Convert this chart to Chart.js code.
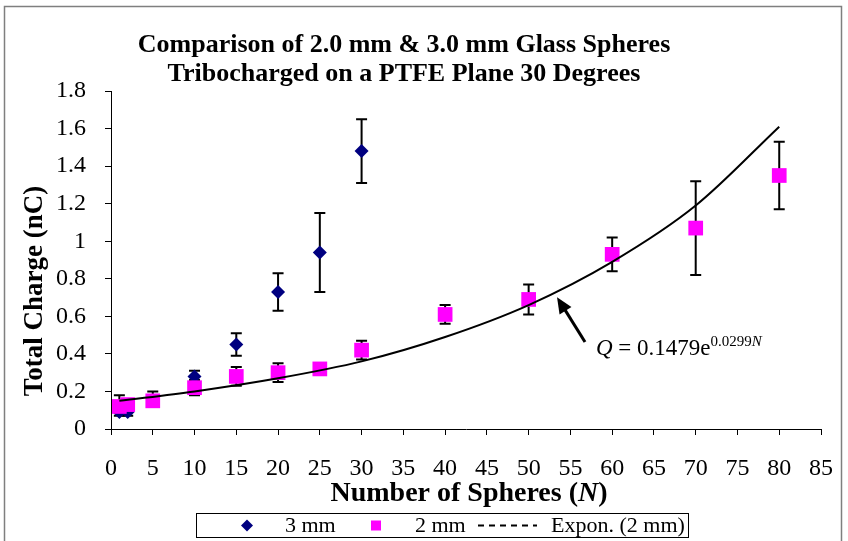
<!DOCTYPE html>
<html>
<head>
<meta charset="utf-8">
<script src="https://cdn.jsdelivr.net/npm/chart.js@4.4.1/dist/chart.umd.min.js"></script>
<style>
  html, body { margin: 0; padding: 0; background: #fff; }
  canvas { display: block; }
</style>
</head>
<body>
<canvas id="myChart" width="848" height="541"></canvas>
<script>
// 3 mm spheres (blue diamonds)
const n3 = [1, 2, 10, 15, 20, 25, 30];
const q3 = [0.09, 0.09, 0.28, 0.45, 0.73, 0.94, 1.48];
const q3Low = [0.07, 0.07, 0.26, 0.39, 0.63, 0.73, 1.31];
const q3High = [0.11, 0.11, 0.31, 0.51, 0.83, 1.15, 1.65];

// 2 mm spheres (magenta squares)
const n2 = [1, 2, 5, 10, 15, 20, 25, 30, 40, 50, 60, 70, 80];
const q2 = [0.12, 0.13, 0.15, 0.22, 0.28, 0.30, 0.32, 0.42, 0.61, 0.69, 0.93, 1.07, 1.35];
const q2Low = [0.10, 0.11, 0.12, 0.18, 0.23, 0.25, 0.30, 0.37, 0.56, 0.61, 0.84, 0.82, 1.17];
const q2High = [0.18, 0.16, 0.20, 0.26, 0.33, 0.35, 0.34, 0.47, 0.66, 0.77, 1.02, 1.32, 1.53];

// exponential trendline for 2 mm
const trendN = [1, 10, 20, 30, 40, 50, 60, 70, 80];
const trendQ = [0.15, 0.20, 0.27, 0.36, 0.49, 0.66, 0.89, 1.19, 1.61];

const titleLines = ["Comparison of 2.0 mm & 3.0 mm Glass Spheres", "Tribocharged on a PTFE Plane 30 Degrees"];
const legendLabels = ["3 mm", "2 mm", "Expon. (2 mm)"];

const FONT = "'Liberation Serif', 'Times New Roman', serif";
const toPoints = (xs, ys) => xs.map((v, i) => ({ x: v, y: ys[i] }));

// white background + outer frame
const frame = {
  id: "frame",
  beforeDraw(chart) {
    const ctx = chart.ctx;
    ctx.save();
    ctx.fillStyle = "#fff";
    ctx.fillRect(0, 0, chart.width, chart.height);
    ctx.restore();
  },
  afterDraw(chart) {
    const ctx = chart.ctx;
    ctx.save();
    ctx.strokeStyle = "#7f7f7f";
    ctx.lineWidth = 1.5;
    ctx.strokeRect(4.5, 6.5, 837, 540);
    ctx.restore();
  },
};

// error bars behind the markers
const errorBars = {
  id: "errorBars",
  beforeDatasetsDraw(chart) {
    const { ctx, scales: { x, y } } = chart;
    ctx.save();
    ctx.strokeStyle = "#000";
    ctx.lineWidth = 2;
    const draw = (ns, lo, hi) => {
      ns.forEach((n, i) => {
        const px = x.getPixelForValue(n);
        const y1 = y.getPixelForValue(lo[i]);
        const y2 = y.getPixelForValue(hi[i]);
        ctx.beginPath();
        ctx.moveTo(px, y1); ctx.lineTo(px, y2);
        ctx.moveTo(px - 5.5, y1); ctx.lineTo(px + 5.5, y1);
        ctx.moveTo(px - 5.5, y2); ctx.lineTo(px + 5.5, y2);
        ctx.stroke();
      });
    };
    draw(n3, q3Low, q3High);
    draw(n2, q2Low, q2High);
    ctx.restore();
  },
};

// titles, axis titles, annotation and legend
const texts = {
  id: "texts",
  afterDraw(chart) {
    const { ctx, scales: { x, y } } = chart;
    ctx.save();
    ctx.fillStyle = "#000";
    ctx.textBaseline = "middle";

    // chart title
    ctx.textAlign = "center";
    ctx.font = "bold 26px " + FONT;
    ctx.fillText(titleLines[0], 404, 45);
    ctx.fillText(titleLines[1], 404, 74);

    // y axis title
    ctx.save();
    ctx.translate(35, 291);
    ctx.rotate(-Math.PI / 2);
    ctx.font = "bold 27px " + FONT;
    ctx.fillText("Total Charge (nC)", 0, 0);
    ctx.restore();

    // x axis title with italic N
    ctx.textAlign = "left";
    const p1 = "Number of Spheres (", p2 = "N", p3 = ")";
    ctx.font = "bold 28px " + FONT;
    const w1 = ctx.measureText(p1).width, w3 = ctx.measureText(p3).width;
    ctx.font = "bold italic 28px " + FONT;
    const w2 = ctx.measureText(p2).width;
    let tx = 469 - (w1 + w2 + w3) / 2;
    const ty = 494;
    ctx.font = "bold 28px " + FONT;
    ctx.fillText(p1, tx, ty);
    ctx.font = "bold italic 28px " + FONT;
    ctx.fillText(p2, tx + w1, ty);
    ctx.font = "bold 28px " + FONT;
    ctx.fillText(p3, tx + w1 + w2, ty);

    // annotation arrow
    const ax0 = x.getPixelForValue(56.75), ay0 = y.getPixelForValue(0.463);
    const ax1 = x.getPixelForValue(53.4), ay1 = y.getPixelForValue(0.702);
    const ang = Math.atan2(ay1 - ay0, ax1 - ax0);
    ctx.strokeStyle = "#000";
    ctx.lineWidth = 3;
    ctx.beginPath();
    ctx.moveTo(ax0, ay0);
    ctx.lineTo(ax1 - 10 * Math.cos(ang), ay1 - 10 * Math.sin(ang));
    ctx.stroke();
    ctx.beginPath();
    ctx.moveTo(ax1, ay1);
    ctx.lineTo(ax1 - 16 * Math.cos(ang) + 7 * Math.sin(ang), ay1 - 16 * Math.sin(ang) - 7 * Math.cos(ang));
    ctx.lineTo(ax1 - 16 * Math.cos(ang) - 7 * Math.sin(ang), ay1 - 16 * Math.sin(ang) + 7 * Math.cos(ang));
    ctx.closePath();
    ctx.fill();

    // equation text
    ctx.textBaseline = "alphabetic";
    let ex = x.getPixelForValue(58.06);
    const ey = y.getPixelForValue(0.394);
    ctx.font = "italic 23px " + FONT;
    ctx.fillText("Q", ex, ey);
    ex += ctx.measureText("Q").width;
    ctx.font = "23px " + FONT;
    ctx.fillText(" = 0.1479e", ex, ey);
    ex += ctx.measureText(" = 0.1479e").width;
    ctx.font = "15px " + FONT;
    ctx.fillText("0.0299", ex, ey - 9);
    ex += ctx.measureText("0.0299").width;
    ctx.font = "italic 15px " + FONT;
    ctx.fillText("N", ex, ey - 9);

    // legend
    ctx.lineWidth = 1;
    ctx.strokeStyle = "#000";
    ctx.strokeRect(196.5, 513.5, 492, 24);
    const ly = 525.5;
    ctx.fillStyle = "#000080";
    ctx.beginPath();
    ctx.moveTo(247, ly - 6); ctx.lineTo(253, ly); ctx.lineTo(247, ly + 6); ctx.lineTo(241, ly);
    ctx.closePath();
    ctx.fill();
    ctx.fillStyle = "#ff00ff";
    ctx.fillRect(371, ly - 5, 10, 10);
    ctx.strokeStyle = "#000";
    ctx.lineWidth = 2;
    ctx.setLineDash([6, 5]);
    ctx.beginPath();
    ctx.moveTo(478, ly); ctx.lineTo(537, ly);
    ctx.stroke();
    ctx.setLineDash([]);
    ctx.fillStyle = "#000";
    ctx.textBaseline = "middle";
    ctx.font = "22px " + FONT;
    ctx.fillText(legendLabels[0], 285, ly + 1);
    ctx.fillText(legendLabels[1], 415, ly + 1);
    ctx.fillText(legendLabels[2], 551, ly + 1);
    ctx.restore();
  },
};

const ctx = document.getElementById("myChart");

new Chart(ctx, {
  type: "scatter",
  data: {
    datasets: [
      {
        label: legendLabels[2],
        data: toPoints(trendN, trendQ),
        showLine: true,
        borderColor: "#000",
        borderWidth: 2,
        pointRadius: 0,
        cubicInterpolationMode: "monotone",
        order: 0,
      },
      {
        label: legendLabels[1],
        data: toPoints(n2, q2),
        pointStyle: "rect",
        pointRadius: 10.4,
        backgroundColor: "#ff00ff",
        borderColor: "#ff00ff",
        borderWidth: 0,
        order: 1,
      },
      {
        label: legendLabels[0],
        data: toPoints(n3, q3),
        pointStyle: "rectRot",
        pointRadius: 7,
        backgroundColor: "#000080",
        borderColor: "#000080",
        borderWidth: 0,
        order: 2,
      },
    ],
  },
  options: {
    responsive: false,
    animation: false,
    devicePixelRatio: 1,
    layout: { padding: { top: 91, right: 27, bottom: 0, left: 0 } },
    plugins: {
      legend: { display: false },
      title: { display: false },
      tooltip: { enabled: false },
    },
    scales: {
      x: {
        type: "linear",
        min: 0,
        max: 85,
        afterFit: (scale) => {
          scale.height = 112;
          scale.paddingLeft = 0;
          scale.paddingRight = 0;
        },
        ticks: {
          stepSize: 5,
          color: "#000",
          font: { family: FONT, size: 24 },
          padding: 19,
          maxRotation: 0,
        },
        grid: { drawOnChartArea: false, color: "#000", tickLength: 6 },
        border: { color: "#000", width: 1 },
      },
      y: {
        min: 0,
        max: 1.8,
        afterFit: (scale) => {
          scale.width = 111;
          scale.paddingTop = 0;
          scale.paddingBottom = 0;
        },
        ticks: {
          stepSize: 0.2,
          color: "#000",
          font: { family: FONT, size: 24 },
          padding: 19,
          callback: (v) => String(+v.toFixed(1)),
        },
        grid: { drawOnChartArea: false, color: "#000", tickLength: 6 },
        border: { color: "#000", width: 1 },
      },
    },
  },
  plugins: [frame, errorBars, texts],
});
</script>
</body>
</html>
